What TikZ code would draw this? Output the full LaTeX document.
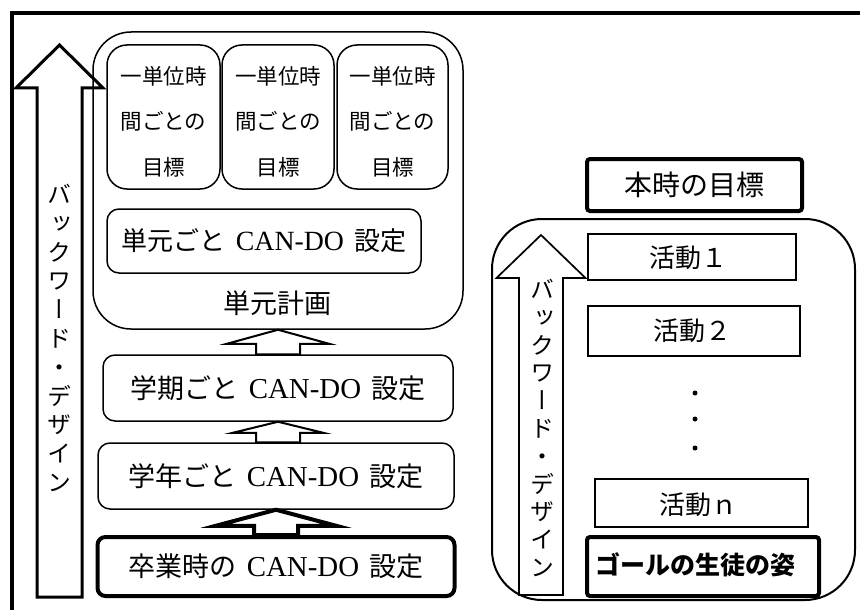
\documentclass[tikz,border=0pt]{standalone}
\usepackage{fontspec}
\setmainfont{Liberation Serif}
\newfontfamily\jp{Noto Sans CJK JP}
\newfontfamily\jpv{Noto Sans CJK JP}[RawFeature={+vert}]
\usetikzlibrary{calc}
\newcommand\fs[1]{\fontsize{#1pt}{#1pt}\selectfont}
\newcommand\cando{\hspace{0.4em}{\rmfamily\fontsize{1.07em}{1em}\selectfont CAN-DO}\hspace{0.4em}}
% fat upward arrow: style, tip, bottom, head half width, head length, shaft half width
\newcommand\fatup[6]{%
  \draw[#1] let \p1=(#2), \p2=(#3) in
    (\x1,\y1) -- ({\x1+#4},{\y1-#5}) -- ({\x1+#6},{\y1-#5}) -- ({\x1+#6},\y2)
    -- ({\x1-#6},\y2) -- ({\x1-#6},{\y1-#5}) -- ({\x1-#4},{\y1-#5}) -- cycle;}
\begin{document}
\begin{tikzpicture}[x=1pt,y=-1pt,
  frame/.style={line width=4pt},
  rbox/.style={draw, line width=1.5pt, rounded corners=12pt, inner sep=0pt},
  thickbox/.style={draw, line width=4pt, rounded corners=8pt, inner sep=0pt},
  sbox/.style={draw, line width=1.5pt, inner sep=0pt},
  txt/.style={inner sep=0pt, font=\jp\fs{27}},
  vtext/.style={inner sep=0pt, align=center},
  fatthin/.style={line width=2pt, line join=miter},
  fatthick/.style={line width=4pt, line join=miter},
  bigarrow/.style={line width=3pt, line join=miter},
  rarrow/.style={line width=1.7pt, line join=miter},
  dot/.style={circle, fill, inner sep=0pt, minimum size=5pt}]
\useasboundingbox (0,0) rectangle (860,610);
% outer frame (only top and left visible)
\draw[frame] (12,610) -- (12,13) -- (860,13);

% ---------- left part ----------
\node[rbox, rounded corners=38pt, minimum width=370pt, minimum height=297pt] (unit) at (278,180.5) {};
\node[txt] (unitlabel) at (277,303) {単元計画};

\node[rbox, rounded corners=20pt, minimum width=113pt, minimum height=144pt] (g1) at (163.5,117) {};
\node[rbox, rounded corners=20pt, minimum width=112pt, minimum height=144pt] (g2) at (278,117) {};
\node[rbox, rounded corners=20pt, minimum width=111pt, minimum height=144pt] (g3) at (392.5,117) {};
\foreach \g/\x in {g1/163.5,g2/278,g3/392.5}{
  \node[inner sep=0pt, align=center, font=\jp\fontsize{21.5pt}{45.5pt}\selectfont] (\g t) at (\x,121.5) {一単位時\\間ごとの\\目標};
}

\node[rbox, minimum width=314pt, minimum height=64pt, font=\jp\fs{26}] (tangen) at (264,241) {単元ごと\cando 設定};
\node[rbox, minimum width=350pt, minimum height=66pt, font=\jp\fs{27}] (gakki) at (278,388) {学期ごと\cando 設定};
\node[rbox, minimum width=356pt, minimum height=66pt, font=\jp\fs{27}] (gakunen) at (276,476) {学年ごと\cando 設定};
\node[thickbox, minimum width=357pt, minimum height=59pt, font=\jp\fs{27}] (sotsu) at (276,566.5) {卒業時の\cando 設定};

\fatup{fatthin}{unit.south}{gakki.north}{51pt}{14pt}{22pt}
\fatup{fatthin}{gakki.south}{gakunen.north}{45pt}{11pt}{22pt}
\fatup{fatthick}{gakunen.south}{sotsu.north}{60pt}{16pt}{22pt}

% big left arrow
\coordinate (Ltip) at (59.5,45);
\coordinate (Lbot) at (59.5,597);
\fatup{bigarrow}{Ltip}{Lbot}{43.5pt}{43pt}{22.5pt}
\node[vtext, font=\jpv\fontsize{24pt}{28.8pt}\selectfont] (lv) at (59,338) {バ\\ッ\\ク\\ワ\\ー\\ド\\・\\デ\\ザ\\イ\\ン};

% ---------- right part ----------
\node[thickbox, rounded corners=3pt, minimum width=215pt, minimum height=52pt, font=\jp\fs{28}] (honji) at (694.5,185) {本時の目標};
\node[rbox, line width=2pt, rounded corners=50pt, minimum width=363pt, minimum height=381pt] (lesson) at (673.5,409.5) {};

\node[sbox, minimum width=208pt, minimum height=46pt] (k1) at (692,257) {};
\node[txt, font=\jp\fs{26}] (k1t) at (688,258) {活動１};
\node[sbox, minimum width=212pt, minimum height=50pt] (k2) at (694,331) {};
\node[txt, font=\jp\fs{26}] (k2t) at (692,331) {活動２};
\node[dot] (d1) at (695,393) {};
\node[dot] (d2) at (695,419) {};
\node[dot] (d3) at (695,448) {};
\node[sbox, minimum width=213pt, minimum height=48pt] (kn) at (701.5,503) {};
\node[txt, font=\jp\fs{26}] (knt) at (698,505) {活動ｎ};
\node[thickbox, rounded corners=3pt, minimum width=232pt, minimum height=59pt] (goal) at (703,566.5) {};
\node[txt, font=\jp\bfseries\fs{25}] (goalt) at (695,565) {ゴールの生徒の姿};

\coordinate (Rtip) at (541,235);
\coordinate (Rbot) at (541,595);
\fatup{rarrow}{Rtip}{Rbot}{44.5pt}{43pt}{22pt}
\node[vtext, font=\jpv\fontsize{24pt}{27.8pt}\selectfont] (rv) at (542,428) {バ\\ッ\\ク\\ワ\\ー\\ド\\・\\デ\\ザ\\イ\\ン};
\end{tikzpicture}
\end{document}
